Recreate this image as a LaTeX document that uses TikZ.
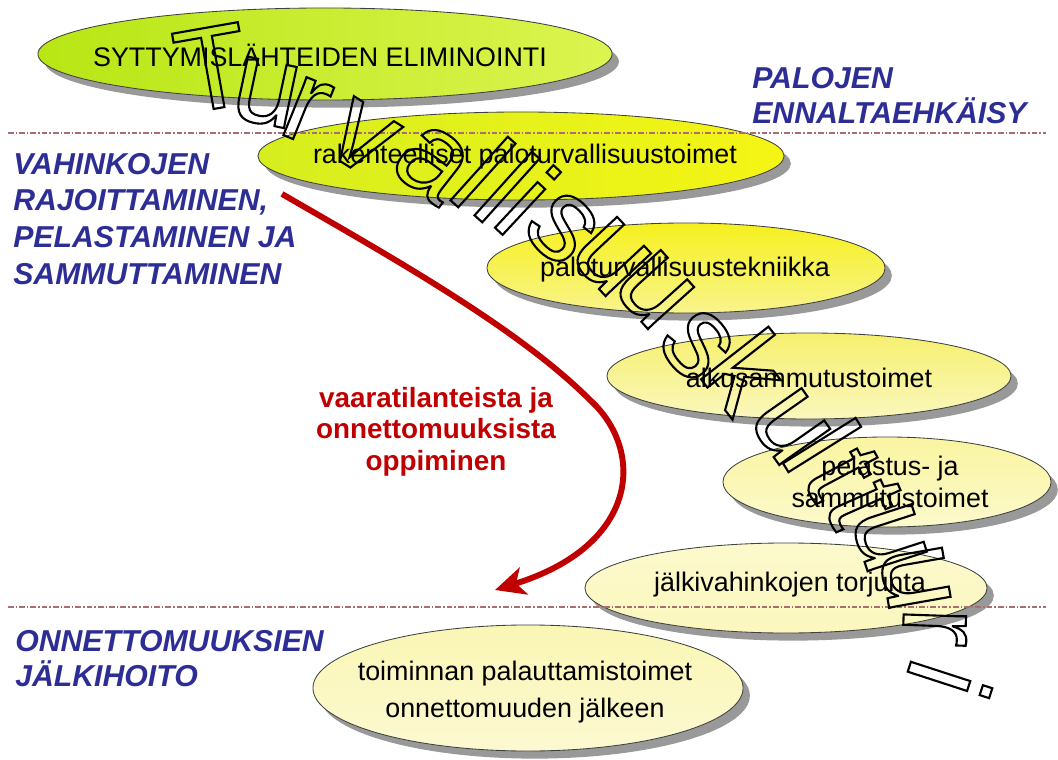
\documentclass[tikz,border=0pt]{standalone}
\usepackage{fontspec}
\setmainfont{Liberation Sans}
\newfontfamily\bigfont{Liberation Sans}
\usetikzlibrary{shapes.geometric,arrows.meta,shadows}
\makeatletter
\newcommand\strokeon{\pgfsys@invoke{1 Tr 1.5 w}}
\newcommand\strokeoff{\pgfsys@invoke{0 Tr}}
\makeatother
\definecolor{lblue}{RGB}{45,45,150}
\definecolor{dred}{RGB}{192,0,0}
\definecolor{dashc}{RGB}{170,110,110}
\begin{document}
\begin{tikzpicture}[x=0.025cm,y=-0.025cm,
 ell/.style={ellipse, draw=black!75, line width=0.6pt, inner sep=0,
   drop shadow={shadow xshift=0.17cm, shadow yshift=-0.19cm, fill=black!50, opacity=0.8}},
 etxt/.style={inner sep=0, align=center, font=\fontsize{19.1pt}{23pt}\selectfont},
 blab/.style={anchor=base west, inner sep=0, text=lblue, font=\fontsize{21.5pt}{26pt}\selectfont\bfseries\itshape},
 rlab/.style={anchor=base, inner sep=0, text=dred, font=\fontsize{19.8pt}{23pt}\selectfont\bfseries},
 wa/.style={inner sep=0, anchor=center, font=\bigfont\fontsize{84pt}{85pt}\selectfont},
 sep/.style={draw=dashc, line width=0.8pt, dash pattern=on 4pt off 1.5pt on 1pt off 1.5pt},
 arr/.style={draw=dred, line width=4.2pt, -{Stealth[length=0.75cm,width=0.7cm,inset=0.2cm]}}
]
\useasboundingbox (0,0) rectangle (1058,760);

% ellipses
\node[ell, minimum width=14.35cm, minimum height=2.3cm,
  left color={rgb,255:red,184;green,230;blue,20}, right color={rgb,255:red,220;green,244;blue,80}]
  (e1) at (325,54) {};
\node[ell, minimum width=13.15cm, minimum height=2.2cm,
  left color={rgb,255:red,214;green,238;blue,30}, right color={rgb,255:red,245;green,245;blue,20}]
  (e2) at (521,156) {};
\node[ell, minimum width=9.95cm, minimum height=2.25cm,
  top color={rgb,255:red,246;green,240;blue,30}, bottom color={rgb,255:red,248;green,244;blue,140}]
  (e3) at (686,268) {};
\node[ell, minimum width=10.1cm, minimum height=2.15cm,
  top color={rgb,255:red,246;green,240;blue,110}, bottom color={rgb,255:red,250;green,247;blue,190}]
  (e4) at (809,376) {};
\node[ell, minimum width=8.2cm, minimum height=2.25cm,
  top color={rgb,255:red,250;green,245;blue,160}, bottom color={rgb,255:red,252;green,249;blue,205}]
  (e5) at (887,482) {};
\node[ell, minimum width=10.75cm, minimum height=3.15cm,
  top color={rgb,255:red,250;green,246;blue,180}, bottom color={rgb,255:red,252;green,249;blue,210}]
  (e7) at (528,688) {};
\node[ell, minimum width=10.05cm, minimum height=2.25cm,
  top color={rgb,255:red,252;green,249;blue,205}, bottom color={rgb,255:red,251;green,247;blue,190}]
  (e6) at (786,588) {};

% ellipse texts
\node[etxt] (t1) at (320,55) {SYTTYMISLÄHTEIDEN ELIMINOINTI};
\node[etxt] (t2) at (525,157) {rakenteelliset paloturvallisuustoimet};
\node[etxt] (t3) at (685,270) {paloturvallisuustekniikka};
\node[etxt] (t4) at (809,378) {alkusammutustoimet};
\node[etxt, font=\fontsize{19.1pt}{22.7pt}\selectfont] (t5) at (890,482) {pelastus- ja\\sammutustoimet};
\node[etxt] (t6) at (790,585) {jälkivahinkojen torjunta};
\node[etxt, font=\fontsize{19.1pt}{26pt}\selectfont] (t7) at (525,692) {toiminnan palauttamistoimet\\onnettomuuden jälkeen};

% separator lines
\coordinate (l1a) at (8,133);  \coordinate (l1b) at (1046,133);
\coordinate (l2a) at (8,607);  \coordinate (l2b) at (1046,607);
\draw[sep] (l1a) -- (l1b);
\draw[sep] (l2a) -- (l2b);

% blue labels
\node[blab] (p1) at (752,89) {PALOJEN};
\node[blab] (p2) at (752,124) {ENNALTAEHKÄISY};
\node[blab] (v1) at (13,175) {VAHINKOJEN};
\node[blab] (v2) at (13,211) {RAJOITTAMINEN,};
\node[blab] (v3) at (13,248) {PELASTAMINEN JA};
\node[blab] (v4) at (13,285) {SAMMUTTAMINEN};
\node[blab] (o1) at (15,651) {ONNETTOMUUKSIEN};
\node[blab] (o2) at (15,686) {JÄLKIHOITO};

% red text and arrow
\node[rlab] (r1) at (436,407) {vaaratilanteista ja};
\node[rlab] (r2) at (436,438) {onnettomuuksista};
\node[rlab] (r3) at (436,470) {oppiminen};
\coordinate (as) at (282,194);
\coordinate (ae) at (495,590);
\draw[arr] (as) .. controls (400,262) and (520,330) .. (590,400)
               .. controls (645,450) and (640,545) .. (ae);

% big outlined word
\strokeon
\foreach \px/\py/\pr/\pc [count=\pn] in {212/68/10/T, 266/93/-12/u, 306/110/-22/r, 362/138/-32/v,
  432/163/-38/a, 483/172/-42/l, 507/187/-42/l, 528/200/-43/i, 562/228/-45/s, 611/257/-47/u,
  654/290/-48/u, 697/345/-50/s, 748/370/-52/k, 790/427/-55/u, 822/445/-58/l, 842/473/-62/t,
  864/503/-66/t, 889/538/-72/u, 915/578/-80/u, 935/627/-92/r, 950/680/-108/i}
  { \node[wa, rotate=\pr] (w\pn) at (\px,\py) {\pc}; }
\strokeoff
\end{tikzpicture}
\end{document}
